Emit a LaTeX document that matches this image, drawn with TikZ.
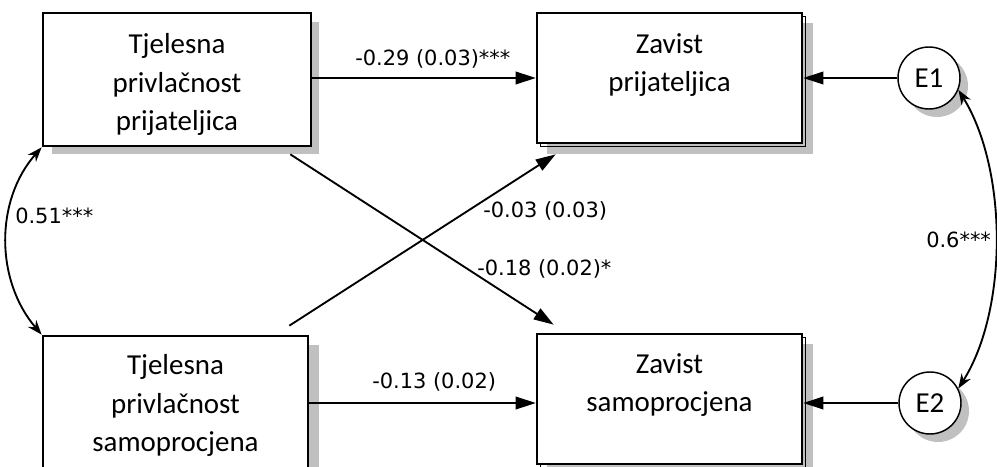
\documentclass[tikz,border=0pt]{standalone}
\usepackage{fontspec}
\setmainfont{Carlito}
\newfontfamily\labfont{DejaVu Sans}
\usetikzlibrary{arrows.meta,calc}
\definecolor{shadowgray}{RGB}{192,192,192}
\begin{document}
\begin{tikzpicture}[x=0.75pt,y=-0.75pt,
  box/.style={draw, line width=2pt, fill=white, inner sep=0pt, rectangle},
  boxtxt/.style={align=center, font=\fontsize{21.7}{29}\selectfont, inner sep=0pt},
  lab/.style={font=\labfont\fontsize{15.7}{18}\selectfont, inner sep=0pt, anchor=base west},
  conn/.style={line width=1.4pt, -{Triangle[length=15pt,width=9.5pt]}},
  cov/.style={line width=1.4pt, {Stealth[length=11pt,width=8pt]}-{Stealth[length=11pt,width=8pt]}},
  err/.style={circle, draw, line width=1.1pt, fill=white, minimum size=46.5pt, inner sep=0pt, font=\fontsize{21.7}{26}\selectfont},
  shade/.style={fill=shadowgray, draw=none},
  thinedge/.style={draw, line width=0.6pt}
]
\useasboundingbox (0,0) rectangle (997,467);

% shadows
\coordinate (s1a) at (52,22);  \coordinate (s1b) at (319,154);
\fill[shade] (s1a) rectangle (s1b);
\fill[shade] (547,23) rectangle (813,154);
\fill[shade] (52,345) rectangle (319,480);
\fill[shade] (547,344) rectangle (813,475);
\fill[shade] (937,86) circle[radius=23.25pt];
\fill[shade] (938,411) circle[radius=23.25pt];

% thin second edges of the right boxes
\draw[thinedge] (540,16) rectangle (805,146);
\draw[thinedge] (540,337) rectangle (805,467);

% boxes
\node[box, minimum width=201pt, minimum height=99.75pt] (b1) at (177,79.5) {};
\node[box, minimum width=198.75pt, minimum height=97.5pt] (b2) at (669.5,78) {};
\node[box, minimum width=198.75pt, minimum height=100.5pt] (b3) at (175.5,403) {};
\node[box, minimum width=198.75pt, minimum height=97.5pt] (b4) at (669.5,399) {};

\node[boxtxt] (t1) at (177,84.5) {Tjelesna\\privlačnost\\prijateljica};
\node[boxtxt] (t2) at (669.5,65) {Zavist\\prijateljica};
\node[boxtxt] (t3) at (175.5,405.5) {Tjelesna\\privlačnost\\samoprocjena};
\node[boxtxt] (t4) at (669.5,385) {Zavist\\samoprocjena};

% error terms
\node[err] (e1) at (929,78) {E1};
\node[err] (e2) at (930,403) {E2};

% paths
\draw[conn] (b1.east |- b2.west) -- (b2.west);
\draw[conn] (b3.east) -- (b3.east -| b4.west);
\draw[conn] (e1.west) -- (e1.west -| b2.east);
\draw[conn] (e2.west) -- (e2.west -| b4.east);
\draw[conn] ($(b1.south east)+(-22,7)$) -- ($(b4.north west)+(18,-8)$);
\draw[conn] ($(b3.north east)+(-20,-9)$) -- ($(b2.south west)+(20,10)$);

% covariances
\draw[cov] (b1.south west) .. controls (-5,200) and (-5,280) .. (b3.north west);
\draw[cov] (e1.-22) .. controls (1008,170) and (1008,310) .. (e2.27);

% labels
\node[lab] (l1) at (355,66) {-0.29 (0.03)***};
\node[lab] (l2) at (483,217) {-0.03 (0.03)};
\node[lab] (l3) at (477,275) {-0.18 (0.02)*};
\node[lab] (l4) at (372,388) {-0.13 (0.02)};
\node[lab] (l5) at (15,223) {0.51***};
\node[lab] (l6) at (926,247) {0.6***};
\end{tikzpicture}
\end{document}
